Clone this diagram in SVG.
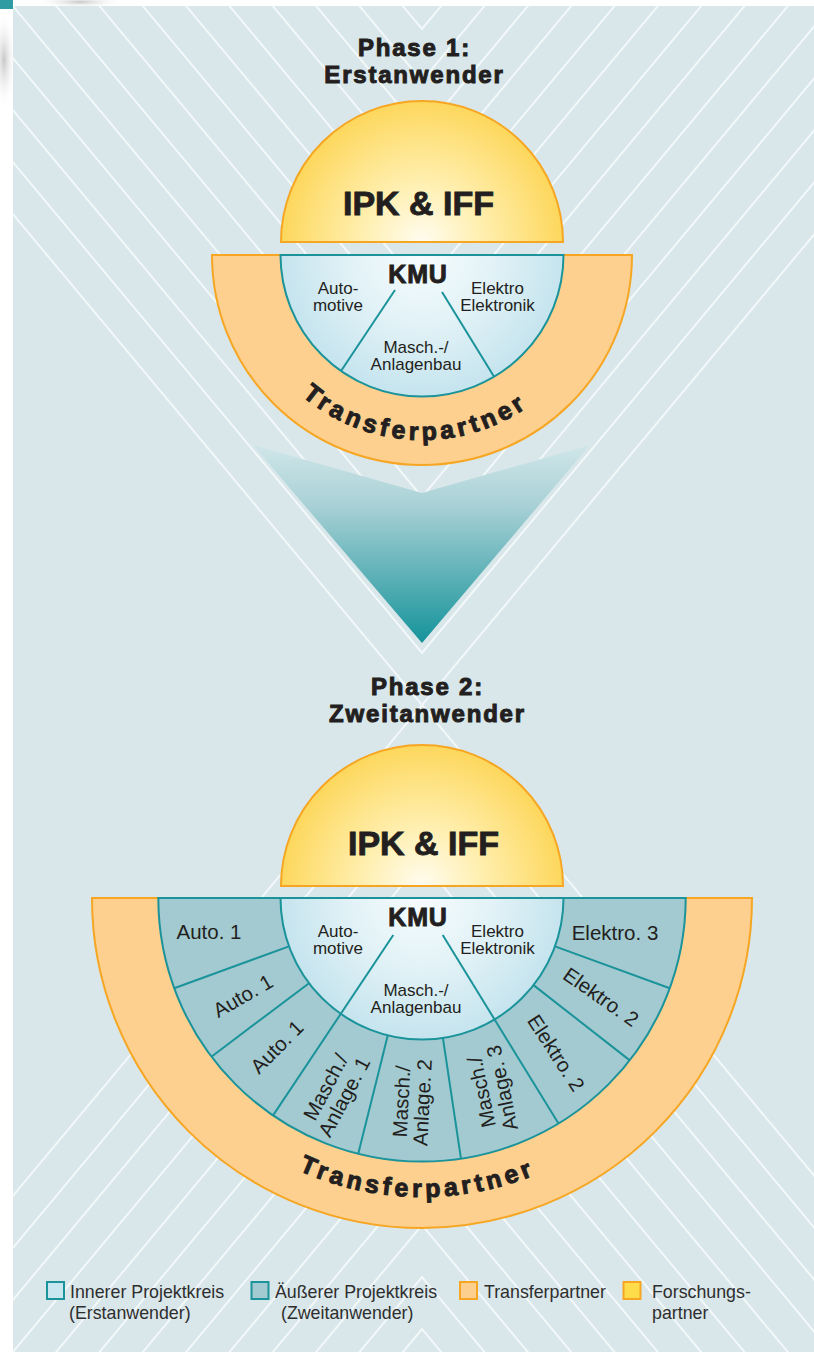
<svg xmlns="http://www.w3.org/2000/svg" width="814" height="1352" viewBox="0 0 814 1352">
<defs>
<style>
.title{font-family:"Liberation Sans",Arial,sans-serif;font-weight:bold;font-size:24px;fill:#231f20;stroke:#231f20;stroke-width:1px;letter-spacing:1.8px;text-anchor:middle}
.big{font-family:"Liberation Sans",Arial,sans-serif;font-weight:bold;font-size:34px;fill:#231f20;stroke:#231f20;stroke-width:0.9px;text-anchor:middle}
.kmu{font-family:"Liberation Sans",Arial,sans-serif;font-weight:bold;font-size:25px;fill:#231f20;stroke:#231f20;stroke-width:0.9px;letter-spacing:0.8px;text-anchor:middle}
.sm{font-family:"Liberation Sans",Arial,sans-serif;font-size:17px;fill:#231f20;text-anchor:middle}
.seg{font-family:"Liberation Sans",Arial,sans-serif;font-size:20.5px;fill:#231f20;text-anchor:middle}
.arc{font-family:"Liberation Sans",Arial,sans-serif;font-weight:bold;font-size:25px;fill:#231f20;stroke:#231f20;stroke-width:1px;letter-spacing:4px;text-anchor:middle}
.leg{font-family:"Liberation Sans",Arial,sans-serif;font-size:17.8px;fill:#2e2e2e}
.bgl{fill:none;stroke:#f3f8f9;stroke-width:2}
.orange{fill:#fdd08f;stroke:#f6a623;stroke-width:2}
.ring{fill:#a2cad0;stroke:#1b939a;stroke-width:2}
.div{fill:none;stroke:#1b939a;stroke-width:2}
.kmuc{stroke:#1b939a;stroke-width:2}
</style>
<clipPath id="bgclip"><rect x="13" y="6" width="801" height="1346"/></clipPath>
<radialGradient id="gY1" gradientUnits="userSpaceOnUse" cx="422" cy="242" r="141">
<stop offset="0" stop-color="#fffcf0"/><stop offset="0.4" stop-color="#fff0b3"/><stop offset="0.8" stop-color="#fee07a"/><stop offset="1" stop-color="#fdd75c"/>
</radialGradient>
<radialGradient id="gY2" gradientUnits="userSpaceOnUse" cx="422" cy="886" r="141">
<stop offset="0" stop-color="#fffcf0"/><stop offset="0.4" stop-color="#fff0b3"/><stop offset="0.8" stop-color="#fee07a"/><stop offset="1" stop-color="#fdd75c"/>
</radialGradient>
<radialGradient id="gK1" gradientUnits="userSpaceOnUse" cx="422" cy="255" r="142">
<stop offset="0" stop-color="#f6fcfd"/><stop offset="0.5" stop-color="#e2f2f7"/><stop offset="1" stop-color="#c5e4ee"/>
</radialGradient>
<radialGradient id="gK2" gradientUnits="userSpaceOnUse" cx="422" cy="898" r="142">
<stop offset="0" stop-color="#f6fcfd"/><stop offset="0.5" stop-color="#e2f2f7"/><stop offset="1" stop-color="#c5e4ee"/>
</radialGradient>
<linearGradient id="gA" gradientUnits="userSpaceOnUse" x1="0" y1="445" x2="0" y2="643">
<stop offset="0" stop-color="#d0e6e9"/><stop offset="0.3" stop-color="#a9d1d6"/><stop offset="1" stop-color="#15939a"/>
</linearGradient>
<radialGradient id="gShade" cx="0.5" cy="0.5" r="0.5">
<stop offset="0" stop-color="#c8c8c8"/><stop offset="1" stop-color="#ffffff" stop-opacity="0"/>
</radialGradient>
<path id="arc1" d="M 237 255 A 185 185 0 0 0 607 255"/>
<path id="arc2" d="M 123 898 A 299 299 0 0 0 721 898"/>
</defs>

<g id="background">
<rect x="0" y="0" width="814" height="1352" fill="#ffffff"/>
<ellipse cx="4" cy="60" rx="12" ry="50" fill="url(#gShade)"/>
<ellipse cx="80" cy="2" rx="45" ry="6" fill="url(#gShade)"/>
<rect x="13" y="6" width="801" height="1346" fill="#d9e7ea"/>
<rect x="0" y="0" width="13" height="9" fill="#2e9ca2"/>
<g clip-path="url(#bgclip)" class="bgl">
<polyline points="-178,-67 422,653 1022,-67"/>
<polyline points="-178,-119 422,601 1022,-119"/>
<polyline points="-178,-171 422,549 1022,-171"/>
<polyline points="-178,-223 422,497 1022,-223"/>
<polyline points="-178,-275 422,445 1022,-275"/>
<polyline points="-178,-327 422,393 1022,-327"/>
<polyline points="-178,-379 422,341 1022,-379"/>
<polyline points="-178,-431 422,289 1022,-431"/>
<polyline points="-178,-483 422,237 1022,-483"/>
<polyline points="-178,-535 422,185 1022,-535"/>
<polyline points="-178,-587 422,133 1022,-587"/>
<polyline points="-178,-639 422,81 1022,-639"/>
<polyline points="-178,-691 422,29 1022,-691"/>
<line x1="-178" y1="-15" x2="1022" y2="1425"/>
<line x1="1022" y1="-15" x2="-178" y2="1425"/>
<polyline points="-178,1477 422,757 1022,1477"/>
<polyline points="-178,1529 422,809 1022,1529"/>
<polyline points="-178,1581 422,861 1022,1581"/>
<polyline points="-178,1633 422,913 1022,1633"/>
<polyline points="-178,1685 422,965 1022,1685"/>
<polyline points="-178,1737 422,1017 1022,1737"/>
<polyline points="-178,1789 422,1069 1022,1789"/>
<polyline points="-178,1841 422,1121 1022,1841"/>
<polyline points="-178,1893 422,1173 1022,1893"/>
<polyline points="-178,1945 422,1225 1022,1945"/>
<polyline points="-178,1997 422,1277 1022,1997"/>
<polyline points="-178,2049 422,1329 1022,2049"/>
</g>
</g>

<g id="connectors">
<path id="arrow-phase1-to-phase2" d="M 253 445 L 422 493 L 590 445 L 422 643 Z" fill="url(#gA)"/>
</g>

<g id="phase1-title">
<text class="title" x="414.5" y="56">Phase 1:</text>
<text class="title" x="414.5" y="83">Erstanwender</text>
</g>

<g id="phase1-forschung">
<path d="M 281 242 A 141 141 0 0 1 563 242 Z" fill="url(#gY1)" stroke="#f6a623" stroke-width="2"/>
<text class="big" x="418.5" y="215">IPK &amp; IFF</text>
</g>

<g id="phase1-transfer">
<path class="orange" d="M 212 255 A 210 210 0 0 0 632 255 Z"/>
<text class="arc"><textPath href="#arc1" startOffset="48.6%">Transferpartner</textPath></text>
</g>

<g id="phase1-kmu">
<path class="kmuc" d="M 280.5 255 A 141.5 141.5 0 0 0 563.5 255 Z" fill="url(#gK1)"/>
<line class="div" x1="395" y1="290" x2="341" y2="371"/>
<line class="div" x1="442" y1="292" x2="494.1" y2="376.8"/>
<text class="kmu" x="418" y="283">KMU</text>
<text class="sm" x="338" y="293.5">Auto-</text>
<text class="sm" x="338" y="311">motive</text>
<text class="sm" x="497.5" y="293.5">Elektro</text>
<text class="sm" x="497.5" y="311">Elektronik</text>
<text class="sm" x="416" y="352.5">Masch.-/</text>
<text class="sm" x="416" y="370">Anlagenbau</text>
</g>

<g id="phase2-title">
<text class="title" x="427.5" y="695">Phase 2:</text>
<text class="title" x="427.5" y="722">Zweitanwender</text>
</g>

<g id="phase2-forschung">
<path d="M 281 886 A 141 141 0 0 1 563 886 Z" fill="url(#gY2)" stroke="#f6a623" stroke-width="2"/>
<text class="big" x="423.5" y="855">IPK &amp; IFF</text>
</g>

<g id="phase2-transfer">
<path class="orange" d="M 92 898 A 330 330 0 0 0 752 898 Z"/>
<text class="arc"><textPath href="#arc2" startOffset="49.5%">Transferpartner</textPath></text>
</g>

<g id="phase2-aeusserer-kreis">
<path class="ring" d="M 158.3 898 A 263.7 263.7 0 0 0 685.7 898 Z"/>
<line class="div" x1="289" y1="946.4" x2="174.2" y2="988.2"/>
<line class="div" x1="309" y1="983.2" x2="211.4" y2="1056.7"/>
<line class="div" x1="387.8" y1="1035.3" x2="358.2" y2="1153.9"/>
<line class="div" x1="442.9" y1="1037.9" x2="461" y2="1158.8"/>
<line class="div" x1="533.5" y1="985.1" x2="629.8" y2="1060.4"/>
<line class="div" x1="555" y1="946.4" x2="669.8" y2="988.2"/>
<text class="seg" x="209" y="939">Auto. 1</text>
<text class="seg" transform="translate(243,996) rotate(-30)" x="0" y="7">Auto. 1</text>
<text class="seg" transform="translate(277,1047) rotate(-45)" x="0" y="7">Auto. 1</text>
<text class="seg" transform="translate(335,1092) rotate(-62)"><tspan x="0" y="-3.5">Masch./</tspan><tspan x="0" y="17.5">Anlage. 1</tspan></text>
<text class="seg" transform="translate(412,1102) rotate(-87)"><tspan x="0" y="-3.5">Masch./</tspan><tspan x="0" y="17.5">Anlage. 2</tspan></text>
<text class="seg" transform="translate(492,1090) rotate(-102)"><tspan x="0" y="-3.5">Masch./</tspan><tspan x="0" y="17.5">Anlage. 3</tspan></text>
<text class="seg" transform="translate(556,1053) rotate(57)" x="0" y="7">Elektro. 2</text>
<text class="seg" transform="translate(601,997) rotate(35)" x="0" y="7">Elektro. 2</text>
<text class="seg" x="615" y="940">Elektro. 3</text>
</g>

<g id="phase2-kmu">
<path class="kmuc" d="M 280.5 898 A 141.5 141.5 0 0 0 563.5 898 Z" fill="url(#gK2)"/>
<line class="div" x1="393.3" y1="935" x2="272.9" y2="1115.6"/>
<line class="div" x1="442.7" y1="935" x2="558.5" y2="1123.6"/>
<text class="kmu" x="418" y="926">KMU</text>
<text class="sm" x="338" y="936.5">Auto-</text>
<text class="sm" x="338" y="954">motive</text>
<text class="sm" x="497.5" y="936.5">Elektro</text>
<text class="sm" x="497.5" y="954">Elektronik</text>
<text class="sm" x="416" y="995.5">Masch.-/</text>
<text class="sm" x="416" y="1013">Anlagenbau</text>
</g>

<g id="legend">
<g id="legend-innerer">
<rect x="47" y="1282" width="17" height="17" fill="#c8e6ef" stroke="#1b939a" stroke-width="2"/>
<text class="leg" x="70" y="1298">Innerer Projektkreis</text>
<text class="leg" x="69" y="1319">(Erstanwender)</text>
</g>
<g id="legend-aeusserer">
<rect x="251.5" y="1282" width="17" height="17" fill="#a2cad0" stroke="#1b939a" stroke-width="2"/>
<text class="leg" x="275" y="1298">Äußerer Projektkreis</text>
<text class="leg" x="281" y="1319">(Zweitanwender)</text>
</g>
<g id="legend-transfer">
<rect x="460" y="1282" width="17" height="17" fill="#fdcf8e" stroke="#f6a623" stroke-width="2"/>
<text class="leg" x="484" y="1298">Transferpartner</text>
</g>
<g id="legend-forschung">
<rect x="623.5" y="1282" width="17" height="17" fill="#fedc4a" stroke="#f6a623" stroke-width="2"/>
<text class="leg" x="652" y="1298">Forschungs-</text>
<text class="leg" x="652" y="1319">partner</text>
</g>
</g>
</svg>
